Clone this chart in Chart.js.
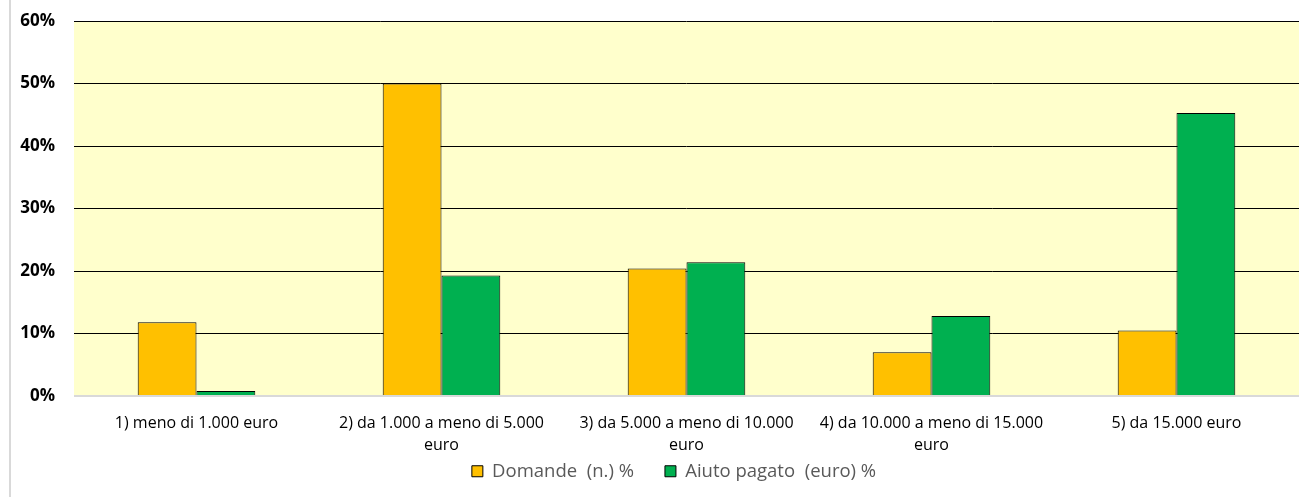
<!DOCTYPE html>
<html>
<head>
<meta charset="utf-8">
<script src="https://cdn.jsdelivr.net/npm/chart.js@4"></script>
<style>
  html, body { margin: 0; padding: 0; background: #fff; }
  #wrap { position: absolute; left: 9px; top: 0; width: 1290px; height: 497px; border-left: 2px solid #d9d9d9; }
  canvas { display: block; }
</style>
</head>
<body>
<div id="wrap"><canvas id="chart" width="1288" height="497"></canvas></div>
<script>
var categories = [
  "1) meno di 1.000 euro",
  ["2) da 1.000 a meno di 5.000", "euro"],
  ["3) da 5.000 a meno di 10.000", "euro"],
  ["4) da 10.000 a meno di 15.000", "euro"],
  "5) da 15.000 euro"
];
var domande = [11.8, 50.0, 20.4, 7.0, 10.5];
var aiuto = [0.8, 19.3, 21.4, 12.8, 45.3];
var yTicks = [0, 10, 20, 30, 40, 50, 60];

var plotBackground = {
  id: "plotBackground",
  beforeDraw: function (chart) {
    var a = chart.chartArea;
    var ctx = chart.ctx;
    ctx.save();
    ctx.fillStyle = "#ffffcc";
    ctx.fillRect(a.left, a.top, a.right - a.left, a.bottom - a.top);
    ctx.restore();
    // legend sits closer to the axis labels than its padding allows, and a bit right of centre
    chart.legend.top -= 25;
    chart.legend.bottom = chart.height;
    chart.legend.left += 19;
    chart.legend.right += 19;
  }
};

var fontFamily = "'Open Sans', sans-serif";

new Chart(document.getElementById("chart"), {
  type: "bar",
  data: {
    labels: categories,
    datasets: [
      { label: "Domande  (n.) %", data: domande, backgroundColor: "#ffc000", borderColor: "#000", borderWidth: 1 },
      { label: "Aiuto pagato  (euro) %", data: aiuto, backgroundColor: "#00b050", borderColor: "#000", borderWidth: 1 }
    ]
  },
  options: {
    responsive: false,
    animation: false,
    devicePixelRatio: 1,
    layout: { padding: { top: 21, right: 0, bottom: 10, left: 0 } },
    datasets: { bar: { categoryPercentage: 0.48, barPercentage: 1 } },
    plugins: {
      tooltip: { enabled: false },
      legend: {
        position: "bottom",
        maxHeight: 31,
        labels: {
          color: "#595959",
          font: { family: fontFamily, size: 18.5 },
          boxWidth: 11,
          boxHeight: 11,
          padding: 31
        }
      }
    },
    scales: {
      x: {
        afterFit: function (scale) { scale.height = 60; },
        grid: { display: false, drawTicks: false },
        border: { display: false },
        ticks: {
          color: "#000",
          font: { family: fontFamily, size: 16, lineHeight: 1.375 },
          maxRotation: 0,
          autoSkip: false,
          padding: 16
        }
      },
      y: {
        min: 0,
        max: 60,
        afterFit: function (scale) { scale.width = 63; },
        afterBuildTicks: function (scale) {
          scale.ticks = yTicks.map(function (v) { return { value: v }; });
        },
        border: { display: false },
        grid: {
          drawTicks: true,
          tickLength: 19,
          tickColor: "rgba(0,0,0,0)",
          color: function (c) { return c.tick && c.tick.value === 0 ? "#d9d9d9" : "#000"; },
          lineWidth: function (c) { return c.tick && c.tick.value === 0 ? 2 : 1; }
        },
        ticks: {
          color: "#000",
          font: { family: fontFamily, size: 17, weight: "bold" },
          padding: 0,
          callback: function (v) { return v + "%"; }
        }
      }
    }
  },
  plugins: [plotBackground]
});
</script>
</body>
</html>
